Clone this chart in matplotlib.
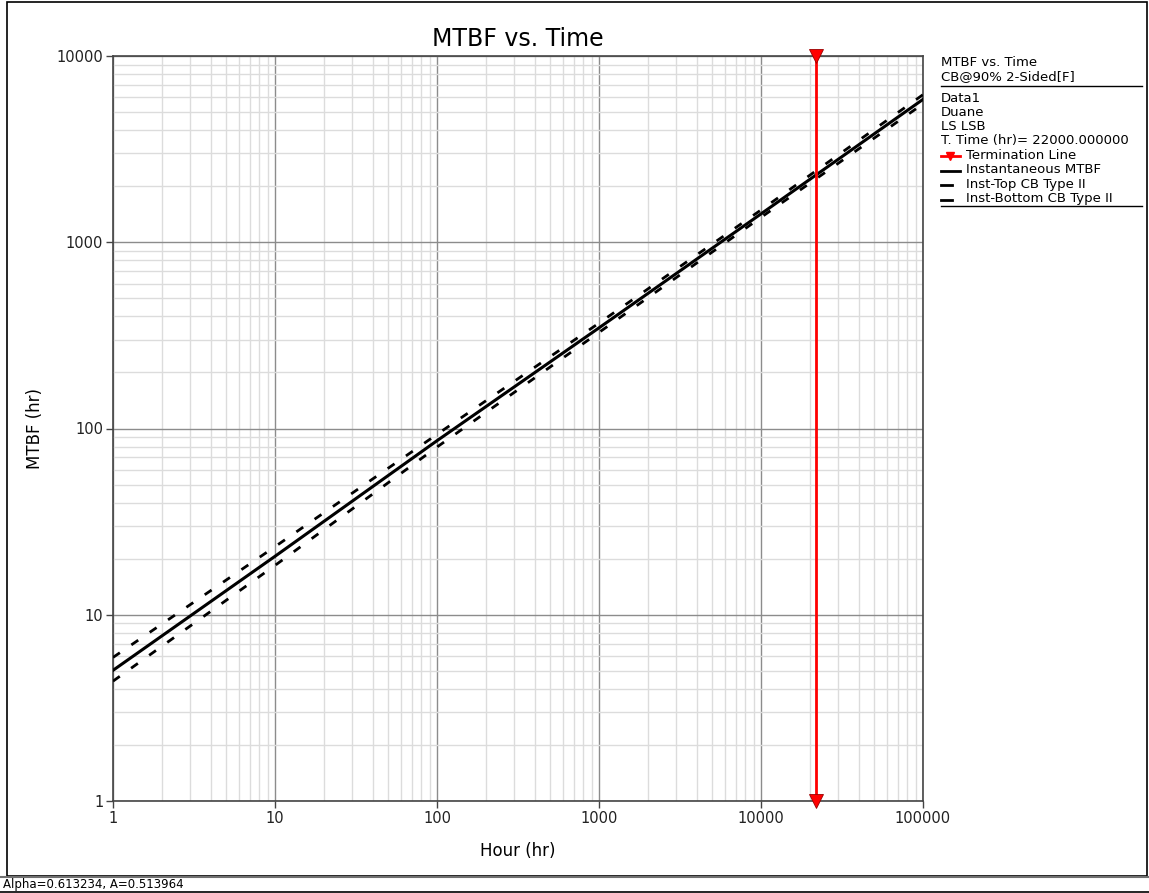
import numpy as np
import matplotlib
matplotlib.use("Agg")
import matplotlib.pyplot as plt
from matplotlib.lines import Line2D
from matplotlib.patches import Rectangle
from matplotlib.ticker import LogLocator, FixedFormatter, FixedLocator, NullFormatter

# -------------------------------------------------------------------
# Data
# -------------------------------------------------------------------
hours = [1, 10, 100, 1000, 10000, 100000]
mtbf_inst = [5.03, 20.6, 86.0, 347, 1420, 5850]
mtbf_top = [5.9, 23.2, 93.0, 368, 1490, 6200]
mtbf_bottom = [4.4, 18.4, 79.5, 328, 1360, 5530]

term_time = 22000
y_limits = [1, 10000]
x_limits = [1, 100000]
x_ticks = [1, 10, 100, 1000, 10000, 100000]
x_ticklabels = ["1", "10", "100", "1000", "10000", "100000"]
y_ticks = [1, 10, 100, 1000, 10000]
y_ticklabels = ["1", "10", "100", "1000", "10000"]

legend_header = ["MTBF vs. Time", "CB@90% 2-Sided[F]"]
legend_info = ["Data1", "Duane", "LS LSB", "T. Time (hr)= 22000.000000"]
legend_series = ["Termination Line", "Instantaneous MTBF",
                 "Inst-Top CB Type II", "Inst-Bottom CB Type II"]
status_text = "Alpha=0.613234, A=0.513964"

# -------------------------------------------------------------------
# Figure
# -------------------------------------------------------------------
W, H = 1149, 893
fig = plt.figure(figsize=(W / 100, H / 100), dpi=100)


def fx(px):
    return px / W


def fy(py):
    return 1 - py / H


L, R, T, B = 113, 923, 56, 801
ax = fig.add_axes([fx(L), fy(B), fx(R - L), fy(T) - fy(B)])
ax.set_xscale("log")
ax.set_yscale("log")
ax.set_xlim(x_limits)
ax.set_ylim(y_limits)

ax.xaxis.set_major_locator(FixedLocator(x_ticks))
ax.xaxis.set_major_formatter(FixedFormatter(x_ticklabels))
ax.yaxis.set_major_locator(FixedLocator(y_ticks))
ax.yaxis.set_major_formatter(FixedFormatter(y_ticklabels))
ax.xaxis.set_minor_locator(LogLocator(base=10, subs=np.arange(2, 10)))
ax.yaxis.set_minor_locator(LogLocator(base=10, subs=np.arange(2, 10)))
ax.xaxis.set_minor_formatter(NullFormatter())
ax.yaxis.set_minor_formatter(NullFormatter())

ax.grid(which="major", color="#8c8c8c", linewidth=1.0)
ax.grid(which="minor", color="#dcdcdc", linewidth=1.0)
ax.set_axisbelow(True)
ax.tick_params(which="major", direction="out", length=5, width=1,
               color="#444444", labelsize=10.5, labelcolor="#222222", pad=2)
ax.tick_params(which="minor", length=0)
for s in ax.spines.values():
    s.set_color("#444444")
    s.set_linewidth(1.2)

ax.set_xlabel("Hour (hr)", fontsize=12, labelpad=12)
ax.set_ylabel("MTBF (hr)", fontsize=12, labelpad=9)
ax.set_title("MTBF vs. Time", fontsize=17, pad=7)

# curves
ax.plot(hours, mtbf_inst, color="black", linewidth=2.2, zorder=3)
ax.plot(hours, mtbf_top, color="black", linewidth=2,
        linestyle=(0, (3, 5)), zorder=3)
ax.plot(hours, mtbf_bottom, color="black", linewidth=2,
        linestyle=(0, (3, 5)), zorder=3)

# termination line
ax.plot([term_time, term_time], y_limits, color="red", linewidth=2,
        zorder=4, clip_on=False)
ax.plot([term_time, term_time], y_limits, linestyle="none", marker="v",
        markersize=10, color="red", markeredgecolor="#990000",
        markeredgewidth=0.6, zorder=5, clip_on=False)

# -------------------------------------------------------------------
# Legend panel (drawn as text, like the original software)
# -------------------------------------------------------------------
fs = 9.5
lx = 941
fig.text(fx(lx), fy(62), legend_header[0], fontsize=fs, va="center")
fig.text(fx(lx), fy(77), legend_header[1], fontsize=fs, va="center")
fig.add_artist(Line2D([fx(lx), fx(1142)], [fy(86), fy(86)], color="black", lw=1))

y = 98
for line in legend_info:
    fig.text(fx(lx), fy(y), line, fontsize=fs, va="center")
    y += 14.3

styles = [("red", 19, "v"), ("black", 19, None),
          ("black", 11, None), ("black", 11, None)]
for label, (col, ln, mk) in zip(legend_series, styles):
    fig.add_artist(Line2D([fx(lx), fx(lx + ln)],
                          [fy(y + 1), fy(y + 1)], color=col, lw=2))
    if mk:
        fig.add_artist(Line2D([fx(lx + 9)], [fy(y + 1)], marker=mk,
                              markersize=6, color=col, linestyle="none"))
    fig.text(fx(lx + 25), fy(y), label, fontsize=fs, va="center")
    y += 14.5
fig.add_artist(Line2D([fx(lx), fx(1142)], [fy(206), fy(206)], color="black", lw=1))

# -------------------------------------------------------------------
# Frame and status bar
# -------------------------------------------------------------------
fig.add_artist(Rectangle((fx(7), fy(876)), fx(1147 - 7), fy(2) - fy(876),
                         fill=False, edgecolor="black", linewidth=1.2))
fig.add_artist(Line2D([0, 1], [fy(877), fy(877)], color="#707070", lw=1.5))
fig.add_artist(Line2D([0, 1], [fy(892), fy(892)], color="black", lw=1.2))
fig.text(fx(3), fy(884.5), status_text, fontsize=8.5, va="center")

fig.savefig("out.png", dpi=100)
